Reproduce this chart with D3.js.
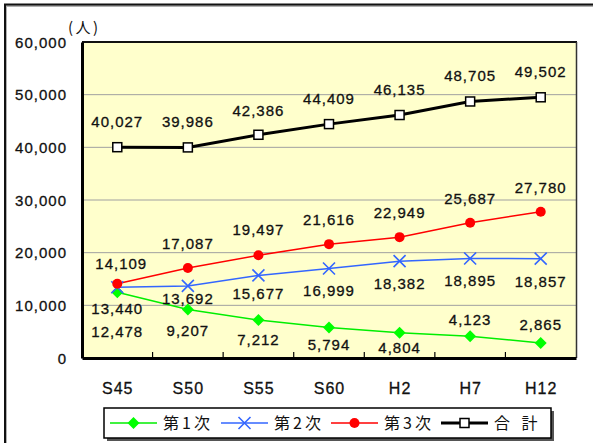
<!DOCTYPE html>
<html>
<head>
<meta charset="utf-8">
<script src="https://cdn.jsdelivr.net/npm/d3@7"></script>
<style>
  body { margin: 0; background: #fff; }
  svg text { font-family: "Liberation Sans", Arial, sans-serif; }
  .jp { font-family: "Noto Sans CJK JP", sans-serif; }
</style>
</head>
<body>
<div id="chart"></div>
<script>
// ***** Data *****
var categories = ["S45", "S50", "S55", "S60", "H2", "H7", "H12"];
var primary   = [12478, 9207, 7212, 5794, 4804, 4123, 2865];
var secondary = [13440, 13692, 15677, 16999, 18382, 18895, 18857];
var tertiary  = [14109, 17087, 19497, 21616, 22949, 25687, 27780];
var total     = [40027, 39986, 42386, 44409, 46135, 48705, 49502];
var yTicks    = [0, 10000, 20000, 30000, 40000, 50000, 60000];

// label placement (dy from point) for each series
var labelDy = {
  primary:   [45, 26, 25, 23, 20, -11, -13],
  secondary: [27, 18, 24, 28, 28, 28, 28],
  tertiary:  [-15, -19, -20, -19, -19, -19, -19],
  total:     [-20, -20, -19, -20, -20, -20, -20]
};

var svgWidth = 593, svgHeight = 443;
var plot = { left: 82, top: 42, right: 576, bottom: 358 };

var svg = d3.select("#chart").append("svg")
  .attr("width", svgWidth)
  .attr("height", svgHeight);

// outer frame (cut off at right / bottom)
svg.append("rect")
  .attr("x", 6).attr("y", 6).attr("width", 620).attr("height", 480)
  .attr("fill", "none").attr("stroke", "#b0b0b0").attr("stroke-width", 2);
svg.append("rect")
  .attr("x", 5).attr("y", 4.5).attr("width", 620).attr("height", 480)
  .attr("fill", "none").attr("stroke", "#111").attr("stroke-width", 2);

var x = d3.scalePoint().domain(categories).range([plot.left, plot.right]).padding(0.5);
var band = d3.scaleBand().domain(categories).range([plot.left, plot.right]);
var y = d3.scaleLinear().domain([0, 60000]).range([plot.bottom, plot.top]);

// plot background
svg.append("rect")
  .attr("x", plot.left).attr("y", plot.top)
  .attr("width", plot.right - plot.left).attr("height", plot.bottom - plot.top)
  .attr("fill", "#ffffcc");

// gridlines
svg.append("g").selectAll("line")
  .data(yTicks.filter(d => d > 0 && d < 60000))
  .enter().append("line")
  .attr("x1", plot.left).attr("x2", plot.right)
  .attr("y1", d => y(d)).attr("y2", d => y(d))
  .attr("stroke", "#a0a0a0").attr("stroke-width", 1);

// plot border
svg.append("line").attr("x1", plot.left).attr("x2", plot.right + 1)
  .attr("y1", plot.top).attr("y2", plot.top).attr("stroke", "#111").attr("stroke-width", 2);
svg.append("line").attr("x1", plot.right + 0.5).attr("x2", plot.right + 0.5)
  .attr("y1", plot.top).attr("y2", plot.bottom).attr("stroke", "#333").attr("stroke-width", 1.5);

// y axis
var yAxis = d3.axisLeft(y).tickValues(yTicks).tickSize(0).tickPadding(15)
  .tickFormat(d3.format(","));
var yG = svg.append("g").attr("transform", `translate(${plot.left},0)`).call(yAxis);
yG.select(".domain").attr("stroke", "#000").attr("stroke-width", 3);
yG.selectAll("text").attr("font-size", 15).attr("fill", "#111")
  .attr("stroke", "#111").attr("stroke-width", 0.3)
  .attr("letter-spacing", 1).attr("dy", "0.35em");

// x axis
var xAxis = d3.axisBottom(x).tickSize(0).tickPadding(25);
var xG = svg.append("g").attr("transform", `translate(0,${plot.bottom})`).call(xAxis);
xG.select(".domain").attr("stroke", "#000").attr("stroke-width", 3);
xG.selectAll("text").attr("font-size", 16).attr("fill", "#111")
  .attr("stroke", "#111").attr("stroke-width", 0.3).attr("letter-spacing", 1);

// inside ticks at category boundaries
svg.append("g").selectAll("line")
  .data(categories.slice(1))
  .enter().append("line")
  .attr("x1", d => band(d)).attr("x2", d => band(d))
  .attr("y1", plot.bottom).attr("y2", plot.bottom - 6)
  .attr("stroke", "#000").attr("stroke-width", 1.2);

// unit label
svg.append("text").attr("class", "jp")
  .attr("x", 68).attr("y", 33).attr("font-size", 15).attr("fill", "#111")
  .attr("letter-spacing", 2.5)
  .text("(人)");

var series = [
  { key: "primary", name: "第1次", values: primary, color: "#00ee00", width: 1.5, marker: "diamond" },
  { key: "secondary", name: "第2次", values: secondary, color: "#3366ff", width: 1.5, marker: "x" },
  { key: "tertiary", name: "第3次", values: tertiary, color: "#ff0000", width: 1.5, marker: "circle" },
  { key: "total", name: "合 計", values: total, color: "#000000", width: 3, marker: "square" }
];

function drawMarker(g, type, color) {
  if (type === "diamond") {
    g.append("path").attr("d", "M0,-6L6,0L0,6L-6,0Z").attr("fill", "#00ff00");
  } else if (type === "x") {
    g.append("path").attr("d", "M-6,-6L6,6M-6,6L6,-6")
      .attr("stroke", color).attr("stroke-width", 1.6).attr("fill", "none");
  } else if (type === "circle") {
    g.append("circle").attr("r", 5).attr("fill", color);
  } else {
    g.append("rect").attr("x", -4.5).attr("y", -4.5).attr("width", 9).attr("height", 9)
      .attr("fill", "#fff").attr("stroke", "#000").attr("stroke-width", 1.5);
  }
}

var line = d3.line().x((d, i) => x(categories[i])).y(d => y(d));

series.forEach(function(s) {
  svg.append("path")
    .datum(s.values)
    .attr("d", line)
    .attr("fill", "none")
    .attr("stroke", s.color)
    .attr("stroke-width", s.width);
});

series.forEach(function(s) {
  s.values.forEach(function(v, i) {
    var g = svg.append("g").attr("transform", `translate(${x(categories[i])},${y(v)})`);
    drawMarker(g, s.marker, s.color);
  });
});

// data labels
var fmt = d3.format(",");
series.forEach(function(s) {
  svg.append("g").selectAll("text")
    .data(s.values)
    .enter().append("text")
    .attr("x", (d, i) => x(categories[i]) + (s.key === "tertiary" && i === 0 ? 4 : 0))
    .attr("y", (d, i) => y(d) + labelDy[s.key][i])
    .attr("text-anchor", "middle")
    .attr("font-size", 15)
    .attr("letter-spacing", 1)
    .attr("fill", "#111")
    .attr("stroke", "#111").attr("stroke-width", 0.3)
    .text(d => fmt(d));
});

// legend
var legend = { x: 104, y: 408, w: 447, h: 30 };
svg.append("rect")
  .attr("x", legend.x + 3).attr("y", legend.y + 3).attr("width", legend.w).attr("height", legend.h)
  .attr("fill", "#555");
svg.append("rect")
  .attr("x", legend.x).attr("y", legend.y).attr("width", legend.w).attr("height", legend.h)
  .attr("fill", "#fff").attr("stroke", "#000").attr("stroke-width", 1.5);

var legendX = [110, 221, 331, 441];
var cy = legend.y + legend.h / 2;
series.forEach(function(s, i) {
  var lx = legendX[i];
  svg.append("line").attr("x1", lx).attr("x2", lx + 47)
    .attr("y1", cy).attr("y2", cy)
    .attr("stroke", s.color).attr("stroke-width", s.width);
  var g = svg.append("g").attr("transform", `translate(${lx + 23.5},${cy})`);
  drawMarker(g, s.marker, s.color);
  svg.append("text").attr("class", "jp")
    .attr("x", lx + 53).attr("y", cy).attr("dy", "0.36em")
    .attr("font-size", 16).attr("letter-spacing", i === 3 ? 4 : 3).attr("fill", "#111")
    .text(s.name);
});
</script>
</body>
</html>
